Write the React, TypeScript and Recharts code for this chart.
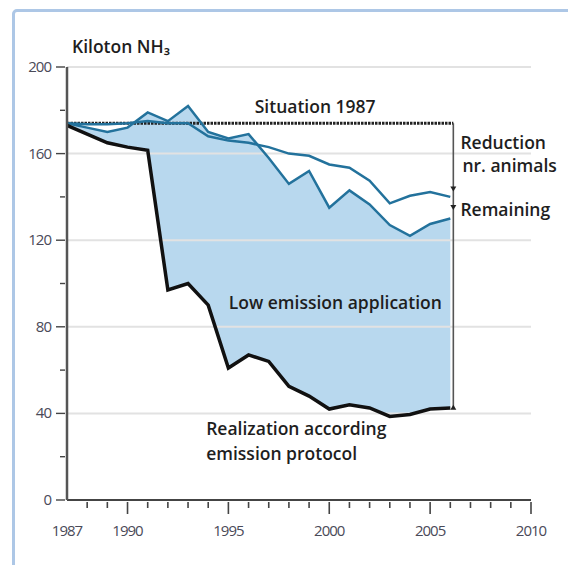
import { ComposedChart, Line, Area, XAxis, YAxis, ReferenceLine, ReferenceDot, Label } from "recharts";

const years = [1987, 1988, 1989, 1990, 1991, 1992, 1993, 1994, 1995, 1996, 1997, 1998, 1999, 2000, 2001, 2002, 2003, 2004, 2005, 2006];
const realization = [173, 169, 165, 163, 161.5, 97, 100, 90, 61, 67, 64, 52.5, 48, 42, 44, 42.5, 38.6, 39.5, 42, 42.5];
const lowEmission = [174, 172, 170, 172, 179, 175, 182, 170, 167, 169, 158, 146, 152, 135, 143, 136.5, 127, 122, 127.5, 130];
const animals = [174, 173.5, 173.5, 174, 175, 174, 174, 168, 166, 165, 163, 160, 159, 155, 153.5, 147.5, 137, 140.5, 142.3, 140];

const situation1987 = 174;
const yTicks = [0, 20, 40, 60, 80, 100, 120, 140, 160, 180, 200];
const gridValues = [40, 80, 120, 160, 200];
const xTicks = [1987, 1988, 1989, 1990, 1991, 1992, 1993, 1994, 1995, 1996, 1997, 1998, 1999, 2000, 2001, 2002, 2003, 2004, 2005, 2006, 2007, 2008, 2009, 2010];
const xLabels = [1987, 1990, 1995, 2000, 2005, 2010];

const data = years.map((year, i) => ({
  year,
  realization: realization[i],
  lowEmission: lowEmission[i],
  animals: animals[i],
  band: [realization[i], lowEmission[i]],
}));

const tickFont = "'Open Sans', sans-serif";
const noteFont = "'Open Sans', sans-serif";

const XTick = (props: any) => {
  const { x, y, payload } = props;
  const v = payload.value;
  const major = v % 5 === 0;
  return (
    <g>
      {v !== 1987 && <line x1={x} x2={x} y1={y} y2={y + (major ? 12 : 6)} stroke="#444" strokeWidth={1.6} />}
      {xLabels.includes(v) && (
        <text x={x} y={y + 34} textAnchor="middle" fontSize={15} fontFamily={tickFont} fill="#4a4a58" letterSpacing={-1}>
          {v}
        </text>
      )}
    </g>
  );
};

const YTick = (props: any) => {
  const { x, y, payload } = props;
  const v = payload.value;
  const major = v % 40 === 0;
  return (
    <g>
      <line x1={x - (major ? 9 : 5)} x2={x} y1={y} y2={y} stroke="#444" strokeWidth={1.4} />
      {major && (
        <text x={x - 14} y={y + 5} textAnchor="end" fontSize={15} fontFamily={tickFont} fill="#4a4a58" letterSpacing={-1}>
          {v}
        </text>
      )}
    </g>
  );
};

const Arrow = (dir: number) => (props: any) => {
  const { cx, cy } = props;
  return <path d={`M${cx - 3},${cy - 5 * dir} L${cx + 3},${cy - 5 * dir} L${cx},${cy} Z`} fill="#222" />;
};

const note = { fontFamily: noteFont, fontSize: 17.5, fontWeight: 600, fill: "#1e1e1e" } as const;

export default function App() {
  return (
    <div style={{ position: "absolute", left: 0, top: 0, width: 568, height: 565, background: "#fff", overflow: "hidden" }}>
      <div
        style={{
          position: "absolute",
          left: 12,
          top: 9,
          width: 600,
          height: 600,
          border: "3px solid #adc7e6",
          borderRadius: 5,
        }}
      />
      <div style={{ position: "absolute", left: 0, top: 0 }}>
        <ComposedChart width={568} height={565} data={data} margin={{ top: 67, right: 37, bottom: 25, left: 10 }}>
          {gridValues.map((g) => (
            <ReferenceLine key={g} y={g} stroke="#e2e2e2" strokeWidth={2} />
          ))}
          <XAxis
            dataKey="year"
            type="number"
            domain={[1987, 2010]}
            ticks={xTicks}
            interval={0}
            tick={<XTick />}
            tickLine={false}
            tickSize={0}
            height={40}
            stroke="#444"
            strokeWidth={2}
          />
          <YAxis
            type="number"
            domain={[0, 200]}
            ticks={yTicks}
            interval={0}
            tick={<YTick />}
            tickLine={false}
            tickSize={0}
            width={57}
            stroke="#555"
            strokeWidth={2.5}
          />
          <Area dataKey="band" stroke="none" fill="#b8d8ee" fillOpacity={1} isAnimationActive={false} />
          <ReferenceLine
            segment={[{ x: 1987, y: situation1987 }, { x: 2006.15, y: situation1987 }]}
            stroke="#222"
            strokeWidth={3}
            strokeDasharray="2.5 1"
          />
          <ReferenceLine
            segment={[{ x: 2006.15, y: situation1987 }, { x: 2006.15, y: 43 }]}
            stroke="#555"
            strokeWidth={1.6}
          />
          <Line dataKey="animals" stroke="#23729c" strokeWidth={2.5} dot={false} isAnimationActive={false} />
          <Line dataKey="lowEmission" stroke="#23729c" strokeWidth={2.5} dot={false} isAnimationActive={false} />
          <Line dataKey="realization" stroke="#111" strokeWidth={3.5} dot={false} isAnimationActive={false} />
          <ReferenceDot x={2006.15} y={142.5} r={3} shape={Arrow(1)} />
          <ReferenceDot x={2006.15} y={134} r={3} shape={Arrow(1)} />
          <ReferenceDot x={2006.15} y={44} r={3} shape={Arrow(-1)} />
          <ReferenceDot x={1987} y={200} r={0} fill="none" stroke="none">
            <Label position="top" content={() => <text x={72} y={53} {...note} fontSize={17.5}>Kiloton NH₃</text>} />
          </ReferenceDot>
          <ReferenceDot x={1999.3} y={181.5} r={0} fill="none" stroke="none">
            <Label value="Situation 1987" position="center" {...note} />
          </ReferenceDot>
          <ReferenceDot x={2006.5} y={165} r={0} fill="none" stroke="none">
            <Label value="Reduction" position="right" offset={0} {...note} />
          </ReferenceDot>
          <ReferenceDot x={2006.6} y={154.5} r={0} fill="none" stroke="none">
            <Label value="nr. animals" position="right" offset={0} {...note} />
          </ReferenceDot>
          <ReferenceDot x={2006.5} y={134} r={0} fill="none" stroke="none">
            <Label value="Remaining" position="right" offset={0} {...note} />
          </ReferenceDot>
          <ReferenceDot x={2000.3} y={91} r={0} fill="none" stroke="none">
            <Label value="Low emission application" position="center" {...note} />
          </ReferenceDot>
          <ReferenceDot x={1993.9} y={33} r={0} fill="none" stroke="none">
            <Label value="Realization according" position="right" offset={0} {...note} />
          </ReferenceDot>
          <ReferenceDot x={1993.9} y={21.5} r={0} fill="none" stroke="none">
            <Label value="emission protocol" position="right" offset={0} {...note} />
          </ReferenceDot>
        </ComposedChart>
      </div>
    </div>
  );
}
